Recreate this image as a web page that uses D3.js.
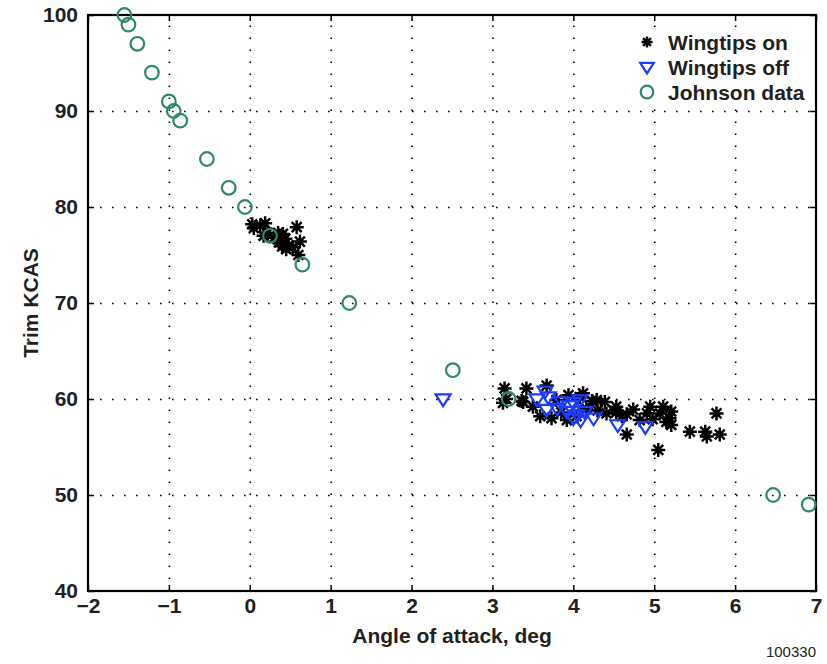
<!DOCTYPE html>
<html>
<head>
<meta charset="utf-8">
<script src="https://cdn.jsdelivr.net/npm/d3@7"></script>
<style>
  body { margin: 0; background: #fff; }
  svg text { font-family: "Liberation Sans", Arial, sans-serif; fill: #231f20; }
</style>
</head>
<body>
<svg id="chart" width="827" height="664"></svg>
<script>
// Johnson data (green circles)
const johnsonAoa  = [-1.55, -1.5, -1.39, -1.21, -1.0, -0.94, -0.86, -0.53, -0.26, -0.06, 0.25, 0.65, 1.23, 2.51, 3.2, 6.47, 6.91];
const johnsonKcas = [100, 99, 97, 94, 91, 90, 89, 85, 82, 80, 77, 74, 70, 63, 60, 50, 49];

// Wingtips off (blue triangles)
const offAoa  = [2.39, 3.55, 3.65, 3.69, 3.67, 3.8, 3.86, 3.92, 3.95, 4.0, 4.0, 4.05, 4.08, 4.09, 4.14, 4.25, 4.55, 4.89];
const offKcas = [60.0, 60.0, 60.8, 60.2, 58.9, 59.0, 59.7, 58.7, 59.3, 59.6, 58.0, 58.3, 59.9, 57.8, 58.7, 58.0, 57.3, 57.1];

// Wingtips on (black asterisks)
const onAoa = [
  0.03, 0.05, 0.13, 0.19, 0.17, 0.22, 0.35, 0.41, 0.58, 0.36, 0.40, 0.45, 0.48, 0.53, 0.62, 0.60, 0.30, 0.44,
  3.15, 3.13, 3.17, 3.36, 3.38, 3.42, 3.59, 3.67, 3.73, 3.79, 3.92, 3.94, 4.04, 4.08, 4.12, 4.16, 4.23, 4.29,
  4.39, 4.41, 4.53, 4.53, 4.66, 4.66, 4.74, 4.82, 4.91, 4.95, 5.05, 5.07, 5.11, 5.19, 5.21, 5.21, 5.44, 5.63,
  5.65, 5.77, 5.81, 3.5, 3.85, 4.3, 4.6, 4.98, 5.15
];
const onKcas = [
  78.2, 77.8, 78.1, 78.3, 77.0, 77.3, 77.3, 77.2, 77.9, 76.3, 75.9, 75.6, 76.0, 75.8, 76.4, 75.0, 76.8, 76.7,
  61.1, 59.6, 60.0, 59.8, 59.7, 61.1, 58.2, 61.4, 58.0, 59.9, 57.8, 60.4, 58.2, 60.2, 60.6, 59.0, 59.8, 59.9,
  59.7, 58.5, 59.2, 58.6, 56.3, 58.4, 58.9, 57.8, 58.5, 59.2, 54.7, 58.5, 59.2, 58.0, 58.7, 57.3, 56.6, 56.6,
  56.1, 58.5, 56.3, 59.2, 58.6, 58.8, 58.2, 57.9, 57.6
];

const xTicks = [-2, -1, 0, 1, 2, 3, 4, 5, 6, 7];
const yTicks = [40, 50, 60, 70, 80, 90, 100];

const legendLabels = ["Wingtips on", "Wingtips off", "Johnson data"];

const plotLeft = 88, plotRight = 816, plotTop = 15, plotBottom = 591;
const svg = d3.select("#chart");

const x = d3.scaleLinear().domain([-2, 7]).range([plotLeft, plotRight]);
const y = d3.scaleLinear().domain([40, 100]).range([plotBottom, plotTop]);

// dotted grid
svg.append("g")
  .attr("transform", `translate(0,${plotBottom})`)
  .call(d3.axisBottom(x).tickValues(xTicks.slice(1, -1)).tickSize(-(plotBottom - plotTop)).tickFormat(""))
  .call(g => g.select(".domain").remove())
  .selectAll("line")
  .attr("stroke", "#000").attr("stroke-width", 1.6).attr("stroke-dasharray", "1.6,10.4");

svg.append("g")
  .attr("transform", `translate(${plotLeft},0)`)
  .call(d3.axisLeft(y).tickValues(yTicks.slice(1, -1)).tickSize(-(plotRight - plotLeft)).tickFormat(""))
  .call(g => g.select(".domain").remove())
  .selectAll("line")
  .attr("stroke", "#000").attr("stroke-width", 1.6).attr("stroke-dasharray", "1.6,10.4");

// inward ticks on all sides
const tickLen = 6;
function styleTicks(g) {
  g.select(".domain").remove();
  g.selectAll("line").attr("stroke", "#000").attr("stroke-width", 1.5);
}
svg.append("g").attr("transform", `translate(0,${plotBottom})`)
  .call(d3.axisBottom(x).tickValues(xTicks).tickSize(-tickLen).tickFormat("")).call(styleTicks);
svg.append("g").attr("transform", `translate(0,${plotTop})`)
  .call(d3.axisTop(x).tickValues(xTicks).tickSize(-tickLen).tickFormat("")).call(styleTicks);
svg.append("g").attr("transform", `translate(${plotLeft},0)`)
  .call(d3.axisLeft(y).tickValues(yTicks).tickSize(-tickLen).tickFormat("")).call(styleTicks);
svg.append("g").attr("transform", `translate(${plotRight},0)`)
  .call(d3.axisRight(y).tickValues(yTicks).tickSize(-tickLen).tickFormat("")).call(styleTicks);

// tick labels
svg.append("g").attr("transform", `translate(0,${plotBottom})`)
  .call(d3.axisBottom(x).tickValues(xTicks).tickSize(0).tickPadding(7).tickFormat(d3.format("d")))
  .call(g => g.select(".domain").remove())
  .selectAll("text")
  .attr("font-size", 21).attr("font-weight", "bold").attr("fill", "#231f20")
  .attr("font-family", "Liberation Sans, Arial, sans-serif");

svg.append("g").attr("transform", `translate(${plotLeft},0)`)
  .call(d3.axisLeft(y).tickValues(yTicks).tickSize(0).tickPadding(10))
  .call(g => g.select(".domain").remove())
  .selectAll("text")
  .attr("font-size", 21).attr("font-weight", "bold").attr("fill", "#231f20")
  .attr("font-family", "Liberation Sans, Arial, sans-serif");

// frame
svg.append("rect")
  .attr("x", plotLeft).attr("y", plotTop)
  .attr("width", plotRight - plotLeft).attr("height", plotBottom - plotTop)
  .attr("fill", "none").attr("stroke", "#000").attr("stroke-width", 2.2);

// markers
const asteriskPath = (r) => {
  let p = "";
  for (let i = 0; i < 4; i++) {
    const a = i * Math.PI / 4;
    const dx = r * Math.cos(a), dy = r * Math.sin(a);
    p += `M${-dx},${-dy}L${dx},${dy}`;
  }
  return p;
};
const triPath = (s) => `M${-s},${-s * 0.62}L${s},${-s * 0.62}L0,${s * 0.95}Z`;

const onData = onAoa.map((a, i) => ({ a, k: onKcas[i] }));
const offData = offAoa.map((a, i) => ({ a, k: offKcas[i] }));
const johnsonData = johnsonAoa.map((a, i) => ({ a, k: johnsonKcas[i] }));

svg.append("g").selectAll("path").data(onData).join("path")
  .attr("transform", d => `translate(${x(d.a)},${y(d.k)})`)
  .attr("d", asteriskPath(7))
  .attr("stroke", "#000").attr("stroke-width", 2.5).attr("fill", "none");

svg.append("g").selectAll("path").data(offData).join("path")
  .attr("transform", d => `translate(${x(d.a)},${y(d.k)})`)
  .attr("d", triPath(7.5))
  .attr("stroke", "#1a3cff").attr("stroke-width", 2.2).attr("fill", "none")
  .attr("stroke-linejoin", "miter");

svg.append("g").selectAll("circle").data(johnsonData).join("circle")
  .attr("cx", d => x(d.a)).attr("cy", d => y(d.k)).attr("r", 6.8)
  .attr("stroke", "#2c8a66").attr("stroke-width", 2.2).attr("fill", "none");

// legend (white backing hides grid dots)
const legend = svg.append("g");
legend.append("rect").attr("x", 634).attr("y", 27).attr("width", 178).attr("height", 80).attr("fill", "#fff");
const legY = [42, 67, 92];
legend.append("path").attr("transform", `translate(647,${legY[0]})`)
  .attr("d", asteriskPath(5.5)).attr("stroke", "#000").attr("stroke-width", 2.4);
legend.append("path").attr("transform", `translate(647,${legY[1]})`)
  .attr("d", triPath(6.8)).attr("stroke", "#1a3cff").attr("stroke-width", 2.2).attr("fill", "none");
legend.append("circle").attr("cx", 647).attr("cy", legY[2]).attr("r", 6.3)
  .attr("stroke", "#2c8a66").attr("stroke-width", 2.2).attr("fill", "none");
legend.selectAll("text").data(legendLabels).join("text")
  .attr("x", 668).attr("y", (d, i) => legY[i]).attr("dy", "0.36em")
  .attr("font-size", 21).attr("font-weight", "bold")
  .text(d => d);

// axis titles
svg.append("text")
  .attr("x", (plotLeft + plotRight) / 2).attr("y", 643)
  .attr("text-anchor", "middle").attr("font-size", 21).attr("font-weight", "bold")
  .text("Angle of attack, deg");

svg.append("text")
  .attr("transform", `translate(38,${(plotTop + plotBottom) / 2}) rotate(-90)`)
  .attr("text-anchor", "middle").attr("font-size", 21).attr("font-weight", "bold")
  .text("Trim KCAS");

svg.append("text")
  .attr("x", 816).attr("y", 657).attr("text-anchor", "end").attr("font-size", 15)
  .text("100330");
</script>
</body>
</html>
